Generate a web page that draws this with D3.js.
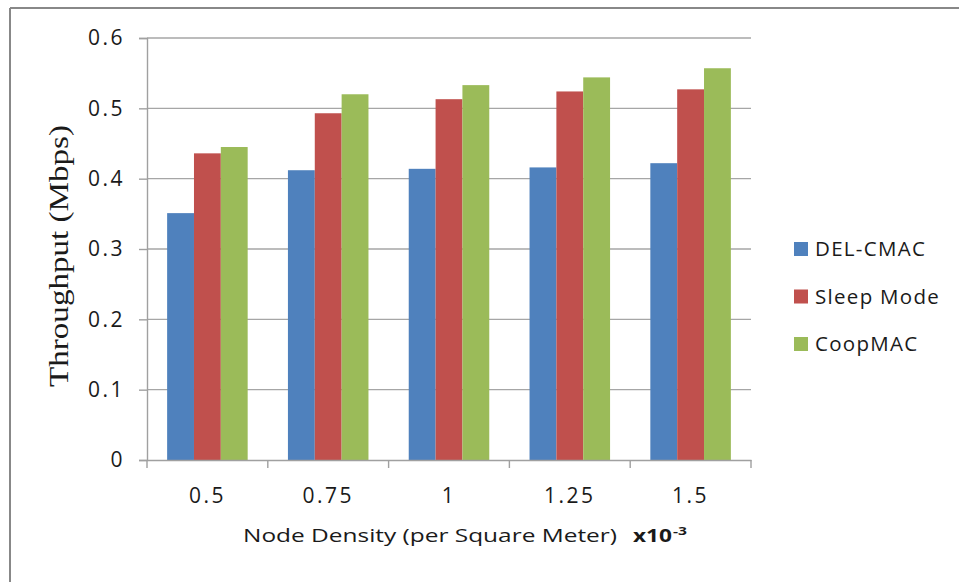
<!DOCTYPE html>
<html>
<head>
<meta charset="utf-8">
<script src="https://cdn.jsdelivr.net/npm/d3@7"></script>
<style>
	body { margin: 0; background: #fff; }
	text { font-family: "Open Sans", sans-serif; fill: #1a1a1a; }
</style>
</head>
<body>
<svg id="chart" width="959" height="582"></svg>
<script>
// values
const categories = ['0.5', '0.75', '1', '1.25', '1.5']
const seriesNames = ['DEL-CMAC', 'Sleep Mode', 'CoopMAC']
const delCmac = [0.351, 0.412, 0.414, 0.416, 0.422]
const sleepMode = [0.436, 0.493, 0.513, 0.524, 0.527]
const coopMac = [0.445, 0.520, 0.533, 0.544, 0.557]
const yTicks = [0, 0.1, 0.2, 0.3, 0.4, 0.5, 0.6]
const colors = ['#4f81bd', '#c0504d', '#9bbb59']

const seriesValues = [delCmac, sleepMode, coopMac]
const rows = categories.map((c, i) => ({ cat: c, vals: seriesNames.map((s, j) => ({ name: s, value: seriesValues[j][i] })) }))

const svg = d3.select('#chart')
const plotLeft = 147, plotRight = 751, plotTop = 38, plotBottom = 460

// outer frame (only top and left edges are visible)
svg.append('line').attr('x1', 10).attr('x2', 959).attr('y1', 8).attr('y2', 8)
	.attr('stroke', '#888').attr('stroke-width', 2)
svg.append('line').attr('x1', 10).attr('x2', 10).attr('y1', 8).attr('y2', 582)
	.attr('stroke', '#888').attr('stroke-width', 2)

const x0 = d3.scaleBand().domain(categories).range([plotLeft, plotRight]).padding(0)
const x1 = d3.scaleBand().domain(seriesNames).range([0, x0.bandwidth()]).paddingInner(0).paddingOuter(0.75)
const y = d3.scaleLinear().domain([0, 0.6]).range([plotBottom, plotTop])
const color = d3.scaleOrdinal().domain(seriesNames).range(colors)

// gridlines
svg.append('g')
	.selectAll('line')
	.data(yTicks.filter(d => d > 0))
	.join('line')
	.attr('x1', plotLeft).attr('x2', plotRight)
	.attr('y1', d => y(d)).attr('y2', d => y(d))
	.attr('stroke', '#a6a6a6').attr('stroke-width', 1.4)

// y axis
const yAxis = svg.append('g')
	.attr('transform', `translate(${plotLeft},0)`)
	.call(d3.axisLeft(y).tickValues(yTicks).tickSize(8).tickPadding(14).tickFormat(d3.format('.1~f')))
yAxis.select('.domain').attr('stroke', '#a0a0a0').attr('stroke-width', 1.4)
yAxis.selectAll('.tick line').attr('stroke', '#a0a0a0').attr('stroke-width', 1.4)
yAxis.selectAll('text')
	.style('font-size', '21px').style('letter-spacing', '2.5px')
	.style('font-family', '"Open Sans", sans-serif').attr('fill', '#1a1a1a')

// bars
const groups = svg.append('g')
	.selectAll('g')
	.data(rows)
	.join('g')
	.attr('transform', d => `translate(${x0(d.cat)},0)`)

groups.selectAll('rect')
	.data(d => d.vals)
	.join('rect')
	.attr('x', d => x1(d.name))
	.attr('width', x1.bandwidth())
	.attr('y', d => y(d.value))
	.attr('height', d => plotBottom - y(d.value))
	.attr('fill', d => color(d.name))

// x axis: labels at band centres, ticks at band edges
const xAxis = svg.append('g')
	.attr('transform', `translate(0,${plotBottom})`)
	.call(d3.axisBottom(x0).tickSize(0).tickPadding(28))
xAxis.select('.domain').attr('stroke', '#a0a0a0').attr('stroke-width', 1.4)
xAxis.selectAll('text')
	.style('font-size', '21px').style('letter-spacing', '2.5px')
	.style('font-family', '"Open Sans", sans-serif').attr('fill', '#1a1a1a')

svg.append('g')
	.selectAll('line')
	.data(categories.map(c => x0(c)).concat([plotRight]))
	.join('line')
	.attr('x1', d => d).attr('x2', d => d)
	.attr('y1', plotBottom).attr('y2', plotBottom + 8)
	.attr('stroke', '#a0a0a0').attr('stroke-width', 1.4)

// axis titles
svg.append('text')
	.attr('transform', 'translate(68,256) rotate(-90)')
	.attr('text-anchor', 'middle')
	.attr('textLength', 262).attr('lengthAdjust', 'spacingAndGlyphs')
	.style('font-family', '"Liberation Serif", "Times New Roman", serif')
	.style('font-size', '27px')
	.text('Throughput (Mbps)')

svg.append('text')
	.attr('x', 243).attr('y', 542)
	.attr('textLength', 374).attr('lengthAdjust', 'spacingAndGlyphs')
	.style('font-size', '18px')
	.text('Node Density (per Square Meter)')
svg.append('text')
	.attr('x', 633).attr('y', 542)
	.attr('textLength', 39).attr('lengthAdjust', 'spacingAndGlyphs')
	.style('font-size', '18px').style('font-weight', 'bold')
	.text('x10')
svg.append('text')
	.attr('x', 673).attr('y', 535)
	.attr('textLength', 14).attr('lengthAdjust', 'spacingAndGlyphs')
	.style('font-size', '11px').style('font-weight', 'bold')
	.text('-3')

// legend
const legend = svg.append('g')
	.selectAll('g')
	.data(seriesNames)
	.join('g')
	.attr('transform', (d, i) => `translate(794,${242 + i * 47.5})`)
legend.append('rect')
	.attr('width', 14).attr('height', 14)
	.attr('fill', d => color(d))
legend.append('text')
	.attr('x', 21).attr('y', 14)
	.style('font-size', '20.5px').style('letter-spacing', '1.3px')
	.text(d => d)
</script>
</body>
</html>
